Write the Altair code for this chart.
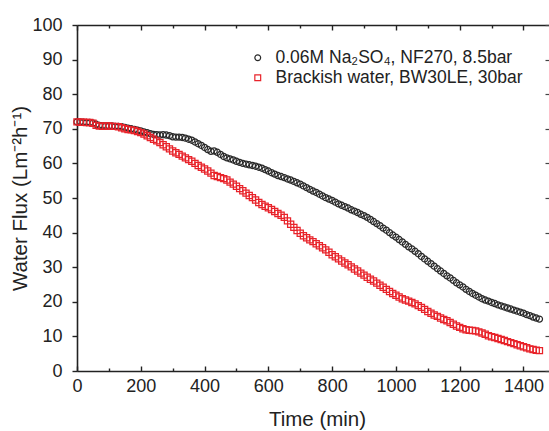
import altair as alt
import pandas as pd

time_min = [
    0, 10, 20, 30, 40, 50, 60, 70, 80, 90,
    100, 110, 120, 130, 140, 150, 160, 170, 180, 190,
    200, 210, 220, 230, 240, 250, 260, 270, 280, 290,
    300, 310, 320, 330, 340, 350, 360, 370, 380, 390,
    400, 410, 420, 430, 440, 450, 460, 470, 480, 490,
    500, 510, 520, 530, 540, 550, 560, 570, 580, 590,
    600, 610, 620, 630, 640, 650, 660, 670, 680, 690,
    700, 710, 720, 730, 740, 750, 760, 770, 780, 790,
    800, 810, 820, 830, 840, 850, 860, 870, 880, 890,
    900, 910, 920, 930, 940, 950, 960, 970, 980, 990,
    1000, 1010, 1020, 1030, 1040, 1050, 1060, 1070, 1080, 1090,
    1100, 1110, 1120, 1130, 1140, 1150, 1160, 1170, 1180, 1190,
    1200, 1210, 1220, 1230, 1240, 1250, 1260, 1270, 1280, 1290,
    1300, 1310, 1320, 1330, 1340, 1350, 1360, 1370, 1380, 1390,
    1400, 1410, 1420, 1430, 1440, 1450,
]

flux_nf270 = [
    72.0, 72.0, 71.9, 71.8, 71.8, 71.6, 71.3, 71.0, 70.9, 70.8,
    70.8, 70.8, 70.7, 70.7, 70.6, 70.4, 70.2, 70.0, 69.8, 69.6,
    69.4, 69.1, 68.9, 68.6, 68.4, 68.3, 68.2, 68.3, 68.2, 68.0,
    67.7, 67.6, 67.6, 67.5, 67.3, 67.0, 66.7, 66.2, 65.7, 65.2,
    64.6, 64.0, 63.5, 63.6, 63.2, 62.6, 62.0, 61.6, 61.3, 61.0,
    60.6, 60.3, 60.0, 59.8, 59.6, 59.4, 59.2, 58.9, 58.6, 58.2,
    57.8, 57.3, 56.9, 56.5, 56.2, 55.9, 55.5, 55.2, 54.8, 54.4,
    54.0, 53.5, 53.0, 52.5, 52.0, 51.6, 51.1, 50.6, 50.1, 49.7,
    49.3, 48.8, 48.3, 47.9, 47.5, 47.1, 46.6, 46.2, 45.8, 45.3,
    44.9, 44.4, 43.8, 43.2, 42.6, 42.0, 41.3, 40.7, 40.0, 39.3,
    38.7, 38.0, 37.3, 36.6, 35.9, 35.3, 34.6, 33.9, 33.1, 32.4,
    31.7, 31.0, 30.3, 29.6, 28.9, 28.2, 27.5, 26.9, 26.2, 25.5,
    24.9, 24.3, 23.6, 23.0, 22.4, 21.9, 21.4, 20.9, 20.5, 20.2,
    19.8, 19.5, 19.1, 18.8, 18.5, 18.2, 17.9, 17.6, 17.3, 17.0,
    16.7, 16.3, 16.0, 15.6, 15.3, 15.0,
]

flux_bw30le = [
    72.0, 71.9, 71.9, 71.8, 71.8, 71.6, 71.0, 70.8, 70.7, 70.8,
    70.8, 70.7, 70.7, 70.6, 70.3, 70.0, 69.8, 69.7, 69.5, 69.2,
    68.9, 68.5, 68.0, 67.5, 67.0, 66.5, 66.0, 65.4, 64.8, 64.2,
    63.6, 63.1, 62.6, 62.1, 61.6, 61.1, 60.6, 60.0, 59.4, 58.9,
    58.4, 57.8, 57.2, 56.5, 56.2, 55.9, 55.6, 55.2, 54.6, 54.0,
    53.4, 52.7, 52.1, 51.4, 50.7, 50.1, 49.4, 48.7, 48.1, 47.6,
    47.2, 46.7, 46.1, 45.5, 45.0, 44.4, 43.4, 42.4, 41.5, 40.6,
    39.8, 39.1, 38.5, 37.9, 37.4, 36.8, 36.2, 35.6, 35.0, 34.3,
    33.6, 33.0, 32.4, 31.8, 31.2, 30.7, 30.1, 29.5, 28.9, 28.3,
    27.7, 27.1, 26.5, 26.0, 25.4, 24.8, 24.2, 23.6, 23.0, 22.4,
    21.9, 21.4, 20.9, 20.5, 20.2, 19.8, 19.4, 18.9, 18.4, 17.8,
    17.2, 16.7, 16.2, 15.8, 15.3, 14.9, 14.5, 14.0, 13.5, 13.0,
    12.6, 12.2, 11.9, 11.8, 11.7, 11.6, 11.3, 11.0, 10.6, 10.2,
    9.9, 9.7, 9.4, 9.1, 8.8, 8.5, 8.2, 7.9, 7.6, 7.3,
    7.0, 6.7, 6.4, 6.2, 6.0, 5.9,
]

series_labels = ["0.06M Na₂SO₄, NF270, 8.5bar", "Brackish water, BW30LE, 30bar"]
series_colors = ["#2a2a2a", "#e8232a"]
series_shapes = ["circle", "square"]

x_major = [0, 200, 400, 600, 800, 1000, 1200, 1400]
x_all_ticks = [0, 100, 200, 300, 400, 500, 600, 700, 800, 900, 1000, 1100, 1200, 1300, 1400]
y_major = [0, 10, 20, 30, 40, 50, 60, 70, 80, 90, 100]

n = len(time_min)
df = pd.DataFrame({
    "time": time_min + time_min,
    "flux": flux_nf270 + flux_bw30le,
    "series": [series_labels[0]] * n + [series_labels[1]] * n,
})

W, H = 472, 346
FONT = "Liberation Sans"
XDOM = [0, 1480]
xs = alt.Scale(domain=XDOM, nice=False, zero=False)
ys = alt.Scale(domain=[0, 100], nice=False, zero=False)
tick_cond = {"condition": {"test": "datum.value % 200 === 0", "value": 5}, "value": 3}

legend = alt.Legend(
    title=None, orient="none", legendX=172, legendY=24, padding=0,
    labelFont=FONT, labelFontSize=17.5, labelColor="#222222", labelLimit=0,
    symbolStrokeWidth=1.2, symbolSize=34, labelOffset=9, rowPadding=1,
    symbolFillColor="transparent",
)

points = alt.Chart(df).mark_point(filled=False, strokeWidth=1.25, opacity=1, size=38).encode(
    x=alt.X("time:Q", scale=xs, axis=alt.Axis(
        title="Time (min)", values=x_major, format="d", ticks=False, domain=True,
        domainColor="#222222", domainWidth=1.6, grid=False,
        labelFont=FONT, labelFontSize=18, labelColor="#222222", labelPadding=6,
        labelFlush=False, labelOverlap=False,
        titleFont=FONT, titleFontSize=20.5, titleFontWeight="normal", titleColor="#222222",
        titleBaseline="alphabetic", titleX=240, titleY=54)),
    y=alt.Y("flux:Q", scale=ys, axis=alt.Axis(
        title="Water Flux (Lm⁻²h⁻¹)", values=y_major, format="d", tickSize=5, tickWidth=1.4,
        tickColor="#222222", domain=True, domainColor="#222222", domainWidth=1.6,
        grid=False, labelFont=FONT, labelFontSize=18, labelColor="#222222",
        labelPadding=10, labelFlush=False, labelOverlap=False,
        titleFont=FONT, titleFontSize=20.5, titleFontWeight="normal", titleColor="#222222",
        titleBaseline="middle", titleX=-57, titleY=173)),
    color=alt.Color("series:N", scale=alt.Scale(domain=series_labels, range=series_colors), legend=legend),
    shape=alt.Shape("series:N", scale=alt.Scale(domain=series_labels, range=series_shapes), legend=legend),
)

# inward ticks on bottom and right edges
ticks_br = alt.Chart(df).mark_point(opacity=0).encode(
    x=alt.X("time:Q", scale=xs, axis=alt.Axis(
        orient="top", offset=-H, values=x_all_ticks, tickSize=tick_cond, tickWidth=1.4,
        tickColor="#222222", labels=False, domain=False, grid=False, title=None)),
    y=alt.Y("flux:Q", scale=ys, axis=alt.Axis(
        orient="left", offset=-W, values=y_major, tickSize=4, tickWidth=1.2,
        tickColor="#444444", labels=False, domain=False, grid=False, title=None)),
)

# top frame line with inward ticks
ticks_top = alt.Chart(df).mark_point(opacity=0).encode(
    x=alt.X("time:Q", scale=xs, axis=alt.Axis(
        orient="bottom", offset=-H, values=x_all_ticks, tickSize=tick_cond, tickWidth=1.4,
        tickColor="#222222", labels=False, domain=True, domainColor="#222222",
        domainWidth=1.6, grid=False, title=None)),
    y=alt.Y("flux:Q", scale=ys, axis=None),
)

chart = alt.layer(points, ticks_br, ticks_top).resolve_scale(
    x="independent", y="independent"
).properties(
    width=W, height=H,
    autosize=alt.AutoSizeParams(type="none"),
    padding={"left": 77, "top": 25, "right": 0, "bottom": 60},
    background="white",
).configure_view(stroke=None)

chart.save("out.html", embed_options={"renderer": "svg", "actions": False})
